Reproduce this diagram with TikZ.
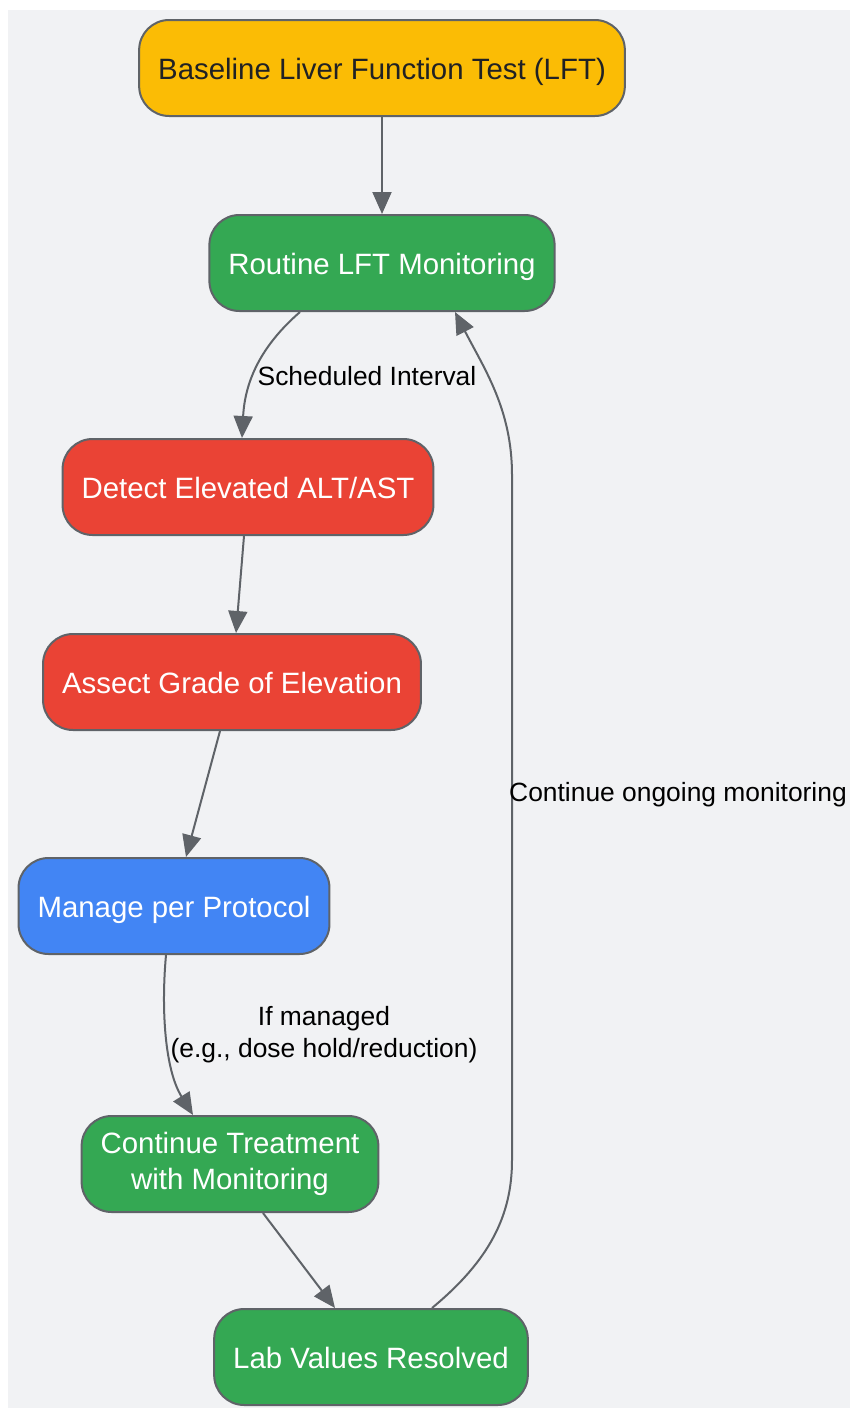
\documentclass[tikz,border=0pt]{standalone}
\usepackage{fontspec}
\setmainfont{Liberation Sans}
\usepackage{tikz}
\usetikzlibrary{arrows.meta}
\definecolor{bggray}{HTML}{F1F2F4}
\definecolor{edgegray}{HTML}{5F6368}
\definecolor{gyellow}{HTML}{FBBC05}
\definecolor{ggreen}{HTML}{34A853}
\definecolor{gred}{HTML}{EA4335}
\definecolor{gblue}{HTML}{4285F4}
\definecolor{darktext}{HTML}{202124}
\tikzstyle{stage}=[
        draw=edgegray,
        line width=2pt,
        rounded corners=30pt,
        minimum height=96pt,
        inner xsep=19pt,
        text height=25pt,
        text depth=3pt,
        text=white,
        font=\fontsize{29.4}{36}\selectfont
]
\tikzstyle{flow}=[
        draw=edgegray,
        line width=2pt,
        -{Triangle[length=22pt,width=19pt]}
]
\tikzstyle{edgelabel}=[
        align=center,
        text=black,
        font=\fontsize{26.4}{32}\selectfont
]

\begin{document}
\begin{tikzpicture}[x=1pt,y=-1pt]
                        \useasboundingbox (0,0) rectangle (850,1408);
                        \fill[bggray] (8,10) rectangle (850,1408);

                        \node[stage,fill=gyellow,text=darktext] (baseline) at (382,68) {Baseline Liver Function Test (LFT)};
                        \node[stage,fill=ggreen] (routine) at (382,263) {Routine LFT Monitoring};
                        \node[stage,fill=gred] (detect) at (248,487) {Detect Elevated ALT/AST};
                        \node[stage,fill=gred] (assess) at (232,682) {Assect Grade of Elevation};
                        \node[stage,fill=gblue] (manage) at (174,906) {Manage per Protocol};
                        \node[stage,fill=ggreen,text height=,text depth=,align=center] (treat) at (230,1164) {Continue Treatment\\with Monitoring};
                        \node[stage,fill=ggreen] (resolved) at (371,1357) {Lab Values Resolved};

                        \draw[flow] (baseline) -- (routine);

                        \draw[flow] ([xshift=-82pt]routine.south) .. controls (262,345) and (245,380) .. ([xshift=-6pt]detect.north);
                        \node[edgelabel] (lblsched) at (367,376) {Scheduled Interval};

                        \draw[flow] ([xshift=-4pt]detect.south) -- ([xshift=4pt]assess.north);

                        \draw[flow] ([xshift=-12pt]assess.south) -- ([xshift=12pt]manage.north);

                        \draw[flow] ([xshift=-8pt]manage.south) .. controls (161,1010) and (165,1070) .. ([xshift=-37pt]treat.north);
                        \node[edgelabel] (lblmanaged) at (324,1035) {If managed\\(e.g., dose hold/reduction)};

                        \draw[flow] ([xshift=33pt]treat.south) -- ([xshift=-36pt]resolved.north);

                        \draw[flow] ([xshift=61pt]resolved.north) .. controls (490,1260) and (512,1215) .. (512,1160)
                            -- (512,475) .. controls (512,410) and (485,370) .. ([xshift=73pt]routine.south);
                        \node[edgelabel] (lblongoing) at (678,795) {Continue ongoing monitoring};

                    \end{tikzpicture}
\end{document}
